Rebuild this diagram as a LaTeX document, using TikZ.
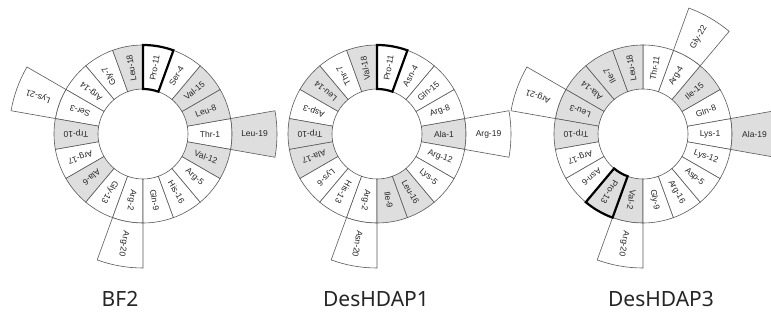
\documentclass[tikz,border=0pt]{standalone}
\usepackage{fontspec}
\setmainfont{Liberation Sans}
\newfontfamily\capfont{Noto Sans}
\usepackage{xcolor}
\usepackage{tikz}
\usetikzlibrary{positioning}

\definecolor{hyd}{gray}{0.87}
\definecolor{segline}{gray}{0.35}

% one sector of a helical wheel: angle, inner radius, outer radius, fill
\newcommand{\ressector}[4]{%
  \draw[seg, fill=#4] ({#1-10}:#2) arc[start angle={#1-10}, end angle={#1+10}, radius=#2]
    -- ({#1+10}:#3) arc[start angle={#1+10}, end angle={#1-10}, radius=#3] -- cycle;}
\newcommand{\proframe}[1]{%
  \draw[pro] ({#1-10}:45pt) arc[start angle={#1-10}, end angle={#1+10}, radius=45pt]
    -- ({#1+10}:89pt) arc[start angle={#1+10}, end angle={#1-10}, radius=89pt] -- cycle;}

\begin{document}
\begin{tikzpicture}[
  x=1pt, y=1pt,
  seg/.style={draw=segline, line width=0.6pt},
  pro/.style={draw=black, line width=2.2pt, line join=miter},
  res/.style={font=\fontsize{8.5}{9}\selectfont, inner sep=0pt, text=black!85},
  caption/.style={font=\capfont\fontsize{21}{24}\selectfont, anchor=base, text=black!85}
]
  \fill[white] (0,0) rectangle (771,320);
  \clip (0,0) rectangle (771,320);

  % BF2
  \begin{scope}[shift={(143,186)}]
    \foreach \ang/\res/\col in {0/Thr-1/white, 20/Leu-8/hyd, 40/Val-15/hyd, 60/Ser-4/white,
        80/Pro-11/white, 100/Leu-18/hyd, 120/Gly-7/white, 140/Arg-14/white, 160/Ser-3/white,
        180/Trp-10/hyd, 200/Arg-17/white, 220/Ala-6/hyd, 240/Gly-13/white, 260/Arg-2/white,
        280/Gln-9/white, 300/His-16/white, 320/Arg-5/white, 340/Val-12/hyd} {
      \ressector{\ang}{45pt}{89pt}{\col}
      \node[res, rotate=\ang] (bf-\ang) at (\ang:67pt) {\res};
    }
    \foreach \ang/\res/\col in {0/Leu-19/hyd, 260/Arg-20/white, 160/Lys-21/white} {
      \ressector{\ang}{89pt}{134pt}{\col}
      \node[res, rotate=\ang] (bf-out-\ang) at (\ang:111.5pt) {\res};
    }
    \proframe{80}
  \end{scope}

  % DesHDAP1
  \begin{scope}[shift={(377,186)}]
    \foreach \ang/\res/\col in {0/Ala-1/hyd, 20/Arg-8/white, 40/Gln-15/white, 60/Asn-4/white,
        80/Pro-11/white, 100/Val-18/hyd, 120/Thr-7/white, 140/Leu-14/hyd, 160/Asp-3/white,
        180/Trp-10/hyd, 200/Ala-17/hyd, 220/Lys-6/white, 240/His-13/white, 260/Arg-2/white,
        280/Ile-9/hyd, 300/Leu-16/hyd, 320/Lys-5/white, 340/Arg-12/white} {
      \ressector{\ang}{45pt}{89pt}{\col}
      \node[res, rotate=\ang] (hd1-\ang) at (\ang:67pt) {\res};
    }
    \foreach \ang/\res/\col in {0/Arg-19/white, 260/Asn-20/white} {
      \ressector{\ang}{89pt}{134pt}{\col}
      \node[res, rotate=\ang] (hd1-out-\ang) at (\ang:111.5pt) {\res};
    }
    \proframe{80}
  \end{scope}

  % DesHDAP3
  \begin{scope}[shift={(643,186)}]
    \foreach \ang/\res/\col in {0/Lys-1/white, 20/Gln-8/white, 40/Ile-15/hyd, 60/Arg-4/white,
        80/Thr-11/white, 100/Leu-18/hyd, 120/Ile-7/hyd, 140/Ala-14/hyd, 160/Leu-3/hyd,
        180/Trp-10/hyd, 200/Arg-17/white, 220/Asn-6/white, 240/Pro-13/hyd, 260/Val-2/hyd,
        280/Gly-9/white, 300/Arg-16/white, 320/Asp-5/white, 340/Lys-12/white} {
      \ressector{\ang}{45pt}{89pt}{\col}
      \node[res, rotate=\ang] (hd3-\ang) at (\ang:67pt) {\res};
    }
    \foreach \ang/\res/\col in {0/Ala-19/hyd, 260/Arg-20/white, 160/Arg-21/white, 60/Gly-22/white} {
      \ressector{\ang}{89pt}{134pt}{\col}
      \node[res, rotate=\ang] (hd3-out-\ang) at (\ang:111.5pt) {\res};
    }
    \proframe{240}
  \end{scope}

  \node[caption] (cap-bf) at (120,13) {BF2};
  \node[caption] (cap-hd1) at (376,13) {DesHDAP1};
  \node[caption] (cap-hd3) at (661,13) {DesHDAP3};
\end{tikzpicture}
\end{document}
